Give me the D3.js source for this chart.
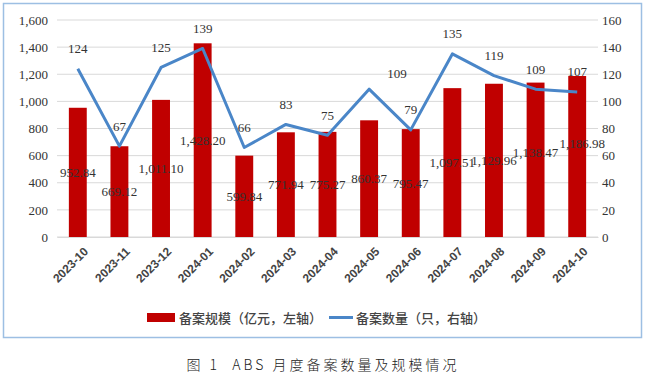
<!DOCTYPE html>
<html><head><meta charset="utf-8">
<script src="https://cdn.jsdelivr.net/npm/d3@7"></script>
<style>
html,body{margin:0;padding:0;background:#fff;}
svg{display:block;}
</style></head>
<body>
<svg id="chart" width="647" height="378"></svg>
<script>
const categories = ["2023-10","2023-11","2023-12","2024-01","2024-02","2024-03","2024-04","2024-05","2024-06","2024-07","2024-08","2024-09","2024-10"];
const scaleValues = [952.84,669.12,1011.10,1428.20,599.84,771.94,775.27,860.37,795.47,1097.51,1129.96,1138.47,1186.98];
const countValues = [124,67,125,139,66,83,75,109,79,135,119,109,107];
const leftTicks = [0,200,400,600,800,1000,1200,1400,1600];
const rightTicks = [0,20,40,60,80,100,120,140,160];
const legendLabels = ["备案规模（亿元，左轴）","备案数量（只，右轴）"];
const caption = "图 1  ABS 月度备案数量及规模情况";

const svg = d3.select("#chart");
const W = 647, H = 378;
const m = {left:57, right:49, top:20, bottom:141};
const x = d3.scaleBand().domain(categories).range([m.left, W - m.right]).paddingInner(0.57).paddingOuter(0.285);
const yL = d3.scaleLinear().domain([0,1600]).range([H - m.bottom, m.top]);
const yR = d3.scaleLinear().domain([0,160]).range([H - m.bottom, m.top]);
const SERIF = "Liberation Serif";
function numStyle(sel){
  sel.style("font-family", SERIF).style("font-size","13px").style("fill","#333");
}

// border
svg.append("rect").attr("x",3.5).attr("y",3.5).attr("width",638).attr("height",334)
  .attr("fill","none").attr("stroke","#9DBFE3").attr("stroke-width",1.5);

// gridlines
svg.append("g").selectAll("line").data(leftTicks).join("line")
  .attr("x1", m.left).attr("x2", W - m.right)
  .attr("y1", d => yL(d)).attr("y2", d => yL(d))
  .attr("stroke", "#D9D9D9").attr("stroke-width", 1);

// left axis
const axL = svg.append("g").attr("transform",`translate(${m.left},0)`)
  .call(d3.axisLeft(yL).tickValues(leftTicks).tickSize(0).tickPadding(9).tickFormat(d3.format(",")));
axL.select(".domain").remove();
axL.selectAll("text").call(numStyle);

// right axis
const axR = svg.append("g").attr("transform",`translate(${W - m.right},0)`)
  .call(d3.axisRight(yR).tickValues(rightTicks).tickSize(0).tickPadding(4));
axR.select(".domain").remove();
axR.selectAll("text").call(numStyle);

// x axis
const axX = svg.append("g").attr("transform",`translate(0,${H - m.bottom})`)
  .call(d3.axisBottom(x).tickSize(0).tickPadding(6));
axX.select(".domain").attr("stroke","#D9D9D9");
axX.selectAll("text")
  .style("font-family","'Liberation Sans',Arial,sans-serif").style("font-size","12px").style("font-weight","bold")
  .style("fill","#444")
  .attr("text-anchor","end").attr("dy","0.35em")
  .attr("transform","translate(4,8) rotate(-45)");

// bars
svg.append("g").selectAll("rect").data(scaleValues).join("rect")
  .attr("x", (d,i) => x(categories[i]))
  .attr("width", x.bandwidth())
  .attr("y", d => yL(d))
  .attr("height", d => yL(0) - yL(d))
  .attr("fill", "#C00000");

// line
const line = d3.line().x((d,i) => x(categories[i]) + x.bandwidth()/2).y(d => yR(d));
svg.append("path").datum(countValues).attr("d", line)
  .attr("fill","none").attr("stroke","#4A86C8").attr("stroke-width",3).attr("stroke-linejoin","round");

// bar labels (centered in bar, a few nudged)
const barNudge = {11:[0,-7], 12:[5,-13]};
svg.append("g").selectAll("text").data(scaleValues).join("text")
  .call(numStyle)
  .attr("x", (d,i) => x(categories[i]) + x.bandwidth()/2 + (barNudge[i]?barNudge[i][0]:0))
  .attr("y", (d,i) => (yL(d)+yL(0))/2 + (barNudge[i]?barNudge[i][1]:0))
  .attr("dy","0.35em").attr("text-anchor","middle")
  .text(d => d3.format(",.2f")(d));

// count labels
const cntNudge = {7:[28,4]};
svg.append("g").selectAll("text").data(countValues).join("text")
  .call(numStyle)
  .attr("x", (d,i) => x(categories[i]) + x.bandwidth()/2 + (cntNudge[i]?cntNudge[i][0]:0))
  .attr("y", (d,i) => yR(d) - 20 + (cntNudge[i]?cntNudge[i][1]:0))
  .attr("dy","0.35em").attr("text-anchor","middle")
  .text(d => d);

// legend
const lg = svg.append("g").style("font-family","'Noto Sans CJK SC',sans-serif").style("font-size","13px").style("font-weight","500").style("fill","#444");
lg.append("rect").attr("x",147).attr("y",313).attr("width",28).attr("height",9).attr("fill","#C00000");
lg.append("text").attr("x",179).attr("y",318).attr("dy","0.35em").text(legendLabels[0]);
lg.append("line").attr("x1",329).attr("x2",353).attr("y1",317.5).attr("y2",317.5).attr("stroke","#4A86C8").attr("stroke-width",3);
lg.append("text").attr("x",356).attr("y",318).attr("dy","0.35em").text(legendLabels[1]);

// caption
svg.append("text").attr("x",323).attr("y",365).attr("dy","0.35em").attr("text-anchor","middle")
  .style("font-family","'Noto Sans CJK SC',sans-serif").style("font-size","14px").style("font-weight","300")
  .style("white-space","pre")
  .style("letter-spacing","3px").style("fill","#222").text(caption);
</script>
</body></html>
